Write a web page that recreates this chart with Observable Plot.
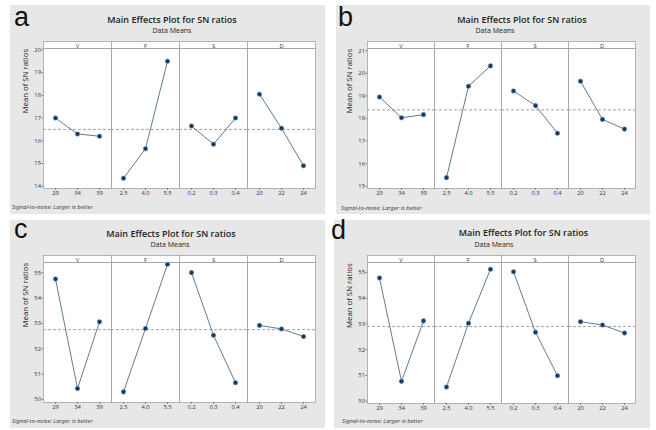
<!DOCTYPE html>
<html><head><meta charset="utf-8">
<script src="https://cdn.jsdelivr.net/npm/d3@7"></script>
<script src="https://cdn.jsdelivr.net/npm/@observablehq/plot@0.6"></script>
<style>
html,body{margin:0;padding:0;background:#fff;}
#root{position:relative;width:656px;height:430px;overflow:hidden;font-family:"Open Sans",sans-serif;}
.panel{position:absolute;background:#e7e7e7;}
.panel svg{position:absolute;left:0;top:0;}
.t{position:absolute;white-space:nowrap;color:#222;line-height:1;}
.c{transform:translate(-50%,-50%);}
.title{font-weight:600;font-size:9px;}
.sub{font-size:7px;}
.foot{font-style:italic;font-size:5.9px;color:#333;transform:translateY(-50%);}
.letter{font-family:"Liberation Sans",Arial,sans-serif;font-size:27px;color:#111;}
</style></head><body><div id="root"></div>
<script>
// ---- data ----
const factors = ["V", "F", "S", "D"];
const levelsV = ["29", "34", "39"];
const levelsF = ["2.5", "4.0", "5.5"];
const levelsS = ["0.2", "0.3", "0.4"];
const levelsD = ["20", "22", "24"];
const panelLetters = ["a", "b", "c", "d"];
const titleText = "Main Effects Plot for SN ratios";
const subtitleText = "Data Means";
const yLabelText = "Mean of SN ratios";
const footText = "Signal-to-noise: Larger is better";
// means of SN ratios, ordered V(29,34,39), F(2.5,4.0,5.5), S(0.2,0.3,0.4), D(20,22,24)
const valuesA = [17.0, 16.3, 16.2, 14.35, 15.65, 19.5, 16.65, 15.85, 17.0, 18.05, 16.55, 14.9];
const valuesB = [18.95, 18.03, 18.17, 15.38, 19.43, 20.33, 19.22, 18.57, 17.35, 19.65, 17.96, 17.53];
const valuesC = [54.75, 50.43, 53.06, 50.3, 52.8, 55.33, 55.0, 52.53, 50.66, 52.92, 52.78, 52.48];
const valuesD = [54.79, 50.77, 53.12, 50.55, 53.03, 55.13, 55.03, 52.68, 50.99, 53.09, 52.96, 52.65];
const yTicksA = [14, 15, 16, 17, 18, 19, 20];
const yTicksB = [15, 16, 17, 18, 19, 20, 21];
const yTicksC = [50, 51, 52, 53, 54, 55];
const yTicksD = [50, 51, 52, 53, 54, 55];
const yDomainA = [13.9, 20.06];
const yDomainB = [14.9, 21.1];
const yDomainC = [49.88, 55.4];
const yDomainD = [49.91, 55.39];
const levels = [levelsV, levelsF, levelsS, levelsD];

// ---- layout ----
const panels = [
  {values: valuesA, ticks: yTicksA, domain: yDomainA, left: 10, top: 5, w: 315, h: 209, mL: 33, mR: 10, mT: 43, mB: 26,
   title: [172, 19], sub: [172, 30], letter: [14, 4], foot: [12, 208]},
  {values: valuesB, ticks: yTicksB, domain: yDomainB, left: 336, top: 5, w: 314, h: 209, mL: 30, mR: 14, mT: 43, mB: 26,
   title: [522, 19], sub: [495, 30], letter: [338, 4], foot: [341, 209]},
  {values: valuesC, ticks: yTicksC, domain: yDomainC, left: 10, top: 220, w: 315, h: 208, mL: 33, mR: 10, mT: 42, mB: 26,
   title: [171, 232.7], sub: [170, 244.3], letter: [14, 216], foot: [12, 421.7]},
  {values: valuesD, ticks: yTicksD, domain: yDomainD, left: 334, top: 220, w: 316, h: 208, mL: 32, mR: 14, mT: 42, mB: 25,
   title: [523.5, 232.3], sub: [494, 244], letter: [331, 217], foot: [342, 421.7]}
];

const root = document.getElementById("root");
const gridColor = "#a3a3a3";

panels.forEach((p, pi) => {
  const rows = [];
  factors.forEach((f, fi) => levels[fi].forEach((lv, li) =>
    rows.push({factor: f, idx: li, level: lv, value: p.values[fi * 3 + li]})));
  const mean = d3.mean(p.values);
  const plotH = p.h - p.mT - p.mB;

  const chart = Plot.plot({
    width: p.w, height: p.h,
    marginLeft: p.mL, marginRight: p.mR, marginTop: p.mT, marginBottom: p.mB,
    style: {background: "transparent", fontFamily: "'Open Sans', sans-serif", fontSize: "5.8px", color: "#333", overflow: "visible"},
    fx: {domain: factors, padding: 0, label: null},
    x: {type: "band", domain: [0, 1, 2], padding: 0, label: null},
    y: {domain: p.domain, label: null},
    marks: [
      Plot.frame({fill: "white"}),
      Plot.frame({fill: "white", stroke: gridColor, strokeWidth: 0.8, insetTop: -7, insetBottom: plotH}),
      Plot.axisFx({anchor: "top", tickSize: 0, tickPadding: 0.6, label: null, fontSize: 5.8}),
      Plot.ruleY([mean], {stroke: "#8a8a8a", strokeWidth: 0.8, strokeDasharray: "3,2"}),
      Plot.line(rows, {fx: "factor", x: "idx", y: "value", stroke: "#46637a", strokeWidth: 0.85}),
      Plot.dot(rows, {fx: "factor", x: "idx", y: "value", r: 2.3, fill: "#1a3757", stroke: "#6ea5d2", strokeWidth: 0.6}),
      Plot.frame({stroke: gridColor, strokeWidth: 0.8}),
      Plot.axisY({ticks: p.ticks, tickSize: 1.5, tickPadding: 1, label: null, tickFormat: d3.format("d"), stroke: "#777"}),
      Plot.axisX({tickSize: 1.8, tickFormat: () => "", label: null, stroke: "#777"}),
      Plot.text(rows, {fx: "factor", x: "idx", text: "level", frameAnchor: "bottom", dy: 5, lineAnchor: "middle"}),
      Plot.text([{f: "V", t: yLabelText}], {fx: "f", text: "t", frameAnchor: "left", rotate: -90, dx: -18, dy: -5, fontSize: 7.8, fill: "#1a1a1a"})
    ]
  });

  const panel = document.createElement("div");
  panel.className = "panel";
  Object.assign(panel.style, {left: p.left + "px", top: p.top + "px", width: p.w + "px", height: p.h + "px"});
  panel.appendChild(chart);
  root.appendChild(panel);

  const addText = (cls, txt, x, y) => {
    const d = document.createElement("div");
    d.className = "t " + cls;
    d.textContent = txt;
    d.style.left = x + "px";
    d.style.top = y + "px";
    root.appendChild(d);
  };
  addText("title c", titleText, p.title[0], p.title[1]);
  addText("sub c", subtitleText, p.sub[0], p.sub[1]);
  addText("foot", footText, p.foot[0], p.foot[1]);
  addText("letter", panelLetters[pi], p.letter[0], p.letter[1]);
});
</script></body></html>
